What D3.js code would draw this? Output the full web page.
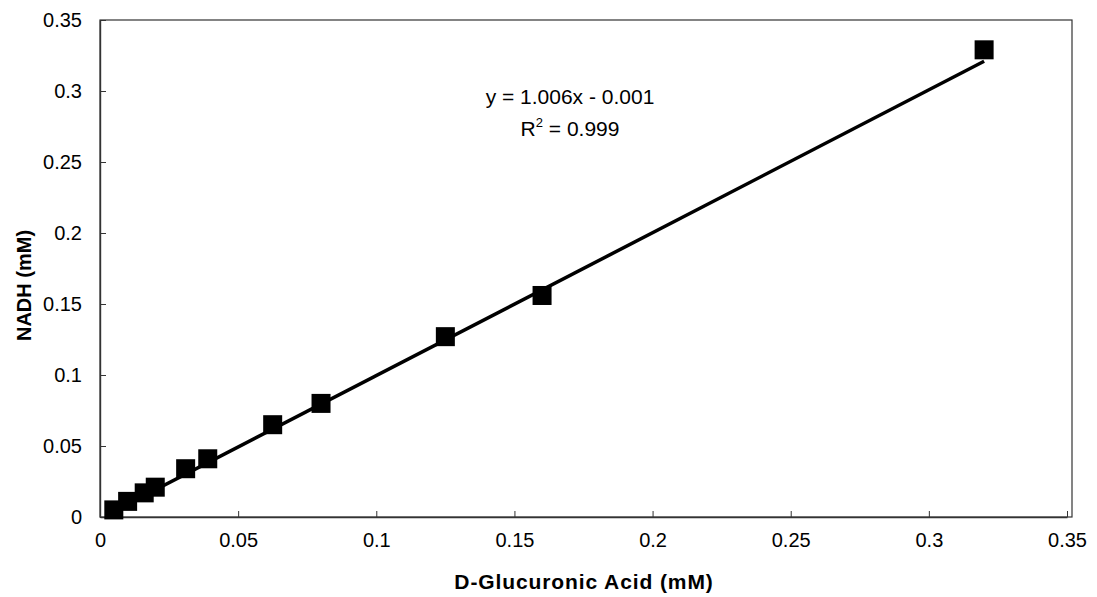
<!DOCTYPE html>
<html>
<head>
<meta charset="utf-8">
<script src="https://cdn.jsdelivr.net/npm/d3@7"></script>
<style>
  body { margin: 0; background: #fff; }
  text { font-family: "Liberation Sans", Arial, sans-serif; }
</style>
</head>
<body>
<div id="chart"></div>
<script>
// D-Glucuronic acid (mM) vs NADH (mM)
var glucuronic = [0.005, 0.01, 0.016, 0.02, 0.031, 0.039, 0.0625, 0.08, 0.125, 0.16, 0.32];
var nadh = [0.005, 0.011, 0.017, 0.021, 0.034, 0.041, 0.065, 0.080, 0.127, 0.156, 0.329];
var tickVals = [0, 0.05, 0.1, 0.15, 0.2, 0.25, 0.3, 0.35];
var slope = 1.006, intercept = -0.001;
var eqText = "y = 1.006x - 0.001";
var r2Value = "0.999";

var W = 1097, H = 597;
var margin = { top: 20, right: 25, bottom: 80, left: 100 };
var width = W - margin.left - margin.right;
var height = H - margin.top - margin.bottom;

var svg = d3.select("#chart")
  .append("svg")
  .attr("width", W)
  .attr("height", H)
  .append("g")
  .attr("transform", "translate(" + margin.left + "," + margin.top + ")");

var x = d3.scaleLinear().domain([0, 0.35]).range([0, width - 5]);
var y = d3.scaleLinear().domain([0, 0.35]).range([height, 0]);

var fmt = function(d) { return String(+d.toFixed(2)); };

// plot frame
svg.append("rect")
  .attr("x", 0).attr("y", 0)
  .attr("width", width).attr("height", height)
  .attr("fill", "none")
  .attr("stroke", "#333")
  .attr("stroke-width", 1.2);

var xAxis = svg.append("g")
  .attr("transform", "translate(0," + height + ")")
  .call(d3.axisBottom(x).tickValues(tickVals).tickFormat(fmt).tickSizeInner(-6).tickSizeOuter(0).tickPadding(24));

var yAxis = svg.append("g")
  .call(d3.axisLeft(y).tickValues(tickVals).tickFormat(fmt).tickSizeInner(-6).tickSizeOuter(0).tickPadding(18));

[xAxis, yAxis].forEach(function(a) {
  a.selectAll("text")
    .attr("font-size", "20px")
    .attr("fill", "#000")
    .style("font-family", "'Liberation Sans', Arial, sans-serif");
  a.selectAll("line").attr("stroke", "#333");
  a.select(".domain").attr("stroke", "#333").attr("stroke-width", 1.4);
});
xAxis.selectAll("text").attr("dy", "0.3em");

// trendline
var xMin = d3.min(glucuronic), xMax = d3.max(glucuronic);
svg.append("line")
  .attr("x1", x(xMin)).attr("y1", y(slope * xMin + intercept))
  .attr("x2", x(xMax)).attr("y2", y(slope * xMax + intercept))
  .attr("stroke", "#000")
  .attr("stroke-width", 3.5);

// markers
var pts = glucuronic.map(function(g, i) { return { g: g, n: nadh[i] }; });
var s = 19;
svg.selectAll(".pt")
  .data(pts)
  .enter().append("rect")
  .attr("class", "pt")
  .attr("x", function(d) { return x(d.g) - s / 2; })
  .attr("y", function(d) { return y(d.n) - s / 2; })
  .attr("width", s)
  .attr("height", s)
  .attr("fill", "#000");

// equation
svg.append("text")
  .attr("x", 470).attr("y", 84)
  .attr("text-anchor", "middle")
  .attr("font-size", "21px")
  .text(eqText);

var r2 = svg.append("text")
  .attr("x", 470).attr("y", 116)
  .attr("text-anchor", "middle")
  .attr("font-size", "21px");
r2.append("tspan").text("R");
r2.append("tspan").attr("font-size", "13px").attr("dy", "-9").text("2");
r2.append("tspan").attr("dy", "9").text(" = " + r2Value);

// axis titles
svg.append("text")
  .attr("x", width / 2 - 2).attr("y", height + 72)
  .attr("text-anchor", "middle")
  .attr("font-size", "21px")
  .attr("font-weight", "bold")
  .attr("letter-spacing", "0.9px")
  .text("D-Glucuronic Acid (mM)");

svg.append("text")
  .attr("transform", "translate(" + (-69) + "," + (height / 2 + 17) + ")rotate(-90)")
  .attr("text-anchor", "middle")
  .attr("font-size", "20px")
  .attr("font-weight", "bold")
  .text("NADH (mM)");
</script>
</body>
</html>
